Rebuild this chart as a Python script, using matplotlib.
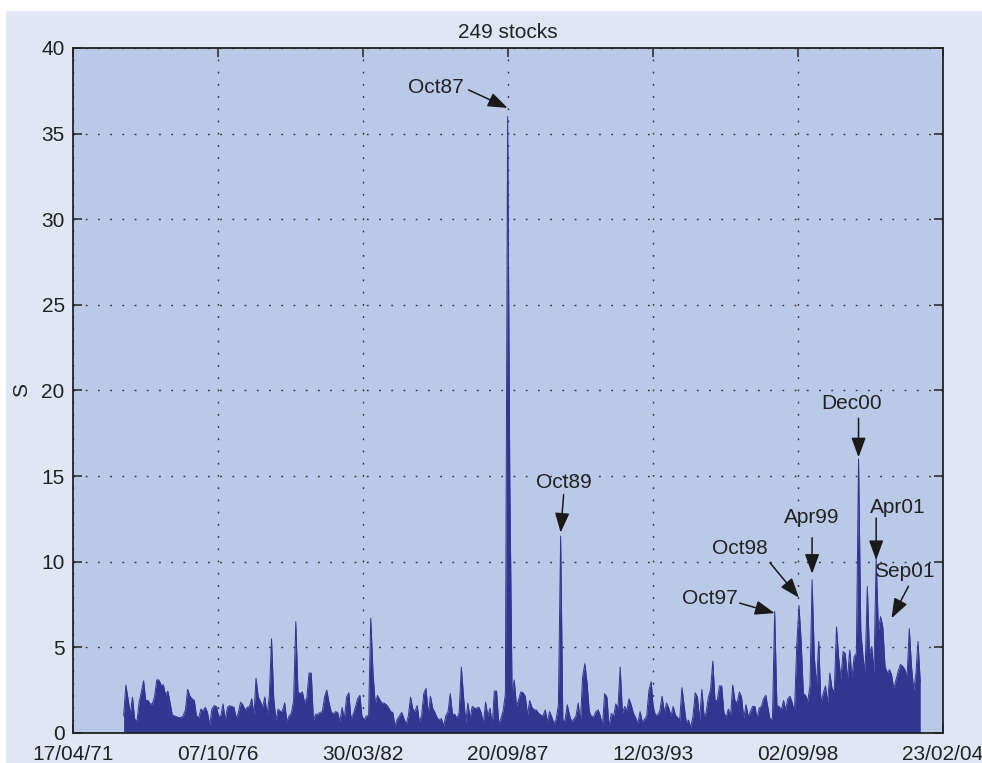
import numpy as np
import pandas as pd
import matplotlib
matplotlib.use("Agg")
import matplotlib.pyplot as plt
import matplotlib.dates as mdates
from matplotlib.patches import Rectangle

plt.rcParams['font.family'] = ['Liberation Sans', 'DejaVu Sans']

# monthly peak of S, first month is March 1973
s_1973_1980 = [1.0, 2.8, 2.0, 1.1, 2.1, 0.8, 0.7, 1.8, 2.4, 3.05,
               1.9, 1.9, 1.7, 1.7, 2.1, 3.1, 3.1, 2.8, 2.8, 2.2,
               2.45, 1.8, 1.05, 1.0, 0.95, 0.9, 0.9, 1.0, 1.35, 2.55,
               2.15, 2.0, 1.9, 1.0, 0.9, 1.4, 1.3, 1.5, 1.2, 0.45,
               1.4, 1.6, 1.55, 1.0, 1.0, 1.7, 0.75, 1.5, 1.6, 1.55,
               1.5, 0.85, 1.2, 1.8, 1.65, 1.35, 1.5, 1.55, 2.0, 1.05,
               3.2, 2.1, 1.85, 1.5, 2.1, 1.05, 2.2, 5.5, 2.0, 0.75,
               1.4, 1.25, 1.3, 1.75, 0.65, 1.0, 1.15, 1.85, 6.5, 2.4,
               2.3, 2.4, 1.75, 2.1, 3.5, 3.5, 0.75, 1.1, 1.1, 1.2, 1.25]
s_1980_1988 = [2.1, 2.5, 1.8, 1.25, 1.1, 1.25, 1.2, 0.65, 1.5, 0.8,
               2.1, 2.35, 0.85, 1.1, 1.5, 2.0, 2.2, 1.0, 0.75, 1.0,
               1.0, 6.7, 3.5, 1.7, 2.2, 1.95, 1.75, 1.75, 1.65, 1.5,
               1.25, 1.2, 0.4, 0.8, 1.0, 1.2, 0.85, 0.5, 1.0, 2.1,
               1.4, 1.25, 1.6, 0.65, 1.0, 2.3, 2.6, 1.1, 2.15, 1.45,
               1.2, 0.9, 0.75, 0.85, 0.4, 1.0, 1.25, 2.3, 1.1, 1.1,
               0.85, 1.2, 3.85, 2.1, 0.6, 1.75, 0.85, 1.55, 1.45, 1.45,
               1.5, 1.2, 0.55, 1.8, 1.0, 1.45, 0.45, 2.45, 2.45, 0.55,
               0.85, 1.3, 2.3, 36.0, 14.6, 2.3, 3.1, 1.55, 2.0, 2.4]
s_1988_1995 = [2.35, 2.15, 1.05, 1.9, 1.5, 1.35, 1.35, 1.15, 1.05, 1.0,
               1.35, 0.65, 1.25, 0.95, 0.55, 0.8, 1.65, 11.5, 0.75, 0.75,
               1.65, 1.05, 0.65, 0.8, 1.0, 1.75, 0.65, 3.3, 4.05, 2.9,
               1.25, 0.95, 0.95, 1.25, 1.35, 1.0, 0.45, 2.3, 2.1, 0.35,
               1.15, 0.95, 1.7, 1.45, 3.85, 1.15, 1.55, 1.3, 2.0, 1.65,
               1.15, 0.9, 0.55, 1.25, 0.65, 0.8, 1.0, 2.5, 3.0, 1.5,
               1.05, 1.05, 1.3, 2.15, 1.2, 1.75, 1.45, 1.0, 1.55, 1.05,
               0.9, 0.75, 2.65, 1.6, 0.6, 0.75, 0.35, 1.0, 2.35, 2.1,
               0.75, 2.55, 0.95, 1.2, 2.1, 2.55, 4.2, 1.9, 1.9, 2.75,
               2.75]
s_1995_2003 = [1.2, 0.9, 1.4, 1.0, 2.8, 1.9, 1.75, 2.4, 2.1, 0.85,
               1.65, 0.95, 1.25, 1.55, 1.55, 0.85, 1.45, 1.55, 2.0, 2.2,
               1.45, 0.75, 0.9, 7.1, 1.6, 1.55, 1.35, 1.9, 1.35, 2.0,
               2.15, 1.75, 1.2, 5.05, 7.45, 5.4, 2.3, 2.2, 1.85, 2.8,
               8.95, 4.45, 2.8, 5.35, 1.75, 2.3, 2.75, 1.75, 3.5, 2.6,
               2.4, 6.2, 4.45, 3.1, 4.75, 4.65, 3.1, 4.85, 3.2, 4.45,
               4.65, 16.0, 6.0, 4.45, 3.5, 8.55, 4.65, 5.05, 3.5, 10.2,
               6.0, 6.8, 6.2, 3.9, 3.5, 3.7, 3.4, 2.6, 3.1, 3.6,
               4.0, 3.9, 3.7, 3.3, 6.1, 3.9, 2.5, 3.5, 5.35, 3.0]

s_values = np.array(s_1973_1980 + s_1980_1988 + s_1988_1995 + s_1995_2003)
months = pd.date_range('1973-03-01', periods=len(s_values), freq='MS') + pd.Timedelta(days=14)

tick_dates = ['1971-04-17', '1976-10-07', '1982-03-30', '1987-09-20',
              '1993-03-12', '1998-09-02', '2004-02-23']

# labelled events: text, month index of the arrow tip, value at the tip
event_labels = ['Oct87', 'Oct89', 'Oct97', 'Oct98', 'Apr99', 'Dec00', 'Apr01', 'Sep01']
event_month = [174, 198, 295, 306, 312, 333, 341, 348]
event_value = [36.5, 11.7, 7.0, 7.9, 9.3, 16.1, 10.1, 6.7]

# arrow tail and text centre, offsets from the tip in pixels
tail_offsets = [(-39, 18), (3, 38), (-35, 10), (-29, 35), (0, 36), (0, 39), (0, 42), (17, 32)]
text_offsets = [(-72, 20), (3, 50), (-65, 15), (-59, 49), (0, 56), (-7, 54), (22, 53), (13, 47)]

fig = plt.figure(figsize=(9.82, 7.63), dpi=100)
fig.patch.set_facecolor('white')
fig.add_artist(Rectangle((6 / 982, 0), 1, 752 / 763, transform=fig.transFigure,
                         facecolor='#E0E6F3', edgecolor='none', zorder=-1))

ax = fig.add_axes([73 / 982, 30 / 763, 870 / 982, 685 / 763])
ax.set_facecolor('#BAC9E7')

ax.fill_between(months, s_values, 0, color='#313691', linewidth=0, zorder=2)
ax.plot(months, s_values, color='#313691', linewidth=0.7, zorder=2)

ax.set_xlim(pd.Timestamp(tick_dates[0]), pd.Timestamp(tick_dates[-1]))
ax.set_ylim(0, 40)
ax.set_xticks([pd.Timestamp(d) for d in tick_dates])
ax.xaxis.set_major_formatter(mdates.DateFormatter('%d/%m/%y'))
ax.set_yticks(np.arange(0, 41, 5))

ax.grid(True, color='#333333', linestyle=(0, (1.3, 7.5)), linewidth=1.0)
ax.set_axisbelow(True)
ax.tick_params(direction='in', top=True, right=True, length=6.5, width=1.1,
               labelsize=15, colors='#222222')
ax.tick_params(axis='x', pad=9)
ax.tick_params(axis='y', pad=6)
for sp in ax.spines.values():
    sp.set_linewidth(1.3)
    sp.set_color('#222222')
    sp.set_zorder(3)

ax.set_title('249 stocks', fontsize=15, pad=7, color='#222222')
ax.set_ylabel('S', fontsize=15, color='#222222')
ax.yaxis.set_label_coords(-0.048, 0.5)

for lab, m, v, tail, txt in zip(event_labels, event_month, event_value,
                                tail_offsets, text_offsets):
    ax.annotate('', xy=(months[m], v), xytext=tail, textcoords='offset pixels',
                arrowprops=dict(arrowstyle='-|>,head_length=0.6,head_width=0.22',
                                color='#1a1a1a', lw=1.1, mutation_scale=20,
                                shrinkA=0, shrinkB=0), zorder=4)
    ax.annotate(lab, xy=(months[m], v), xytext=txt, textcoords='offset pixels',
                ha='center', va='center', fontsize=15, color='#222222', zorder=4)

fig.savefig('out.png', dpi=100)
